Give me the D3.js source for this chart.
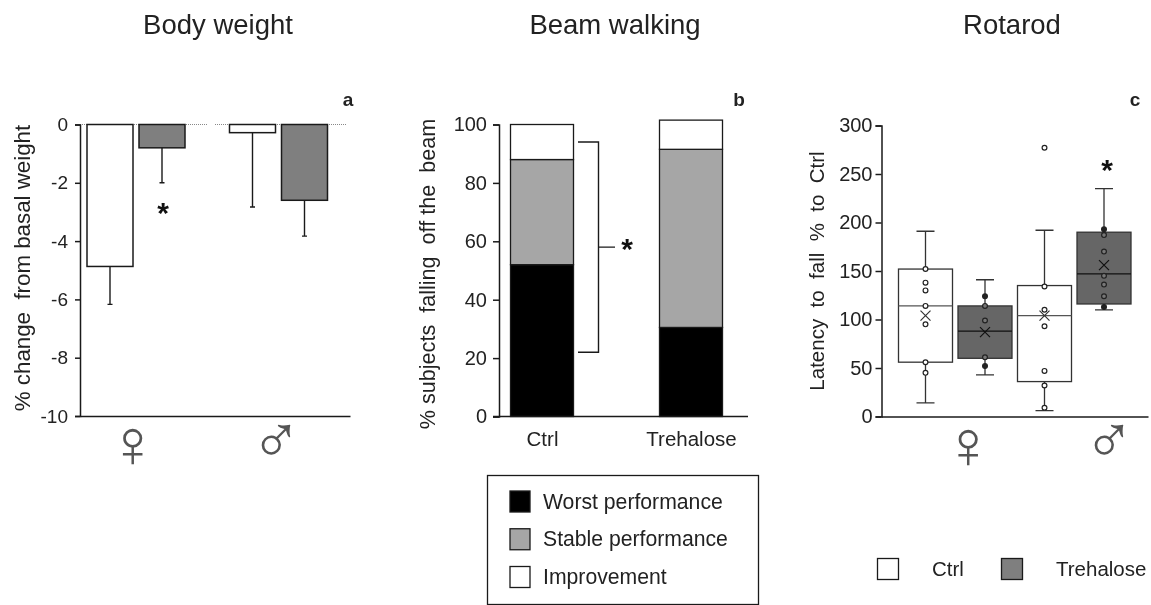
<!DOCTYPE html>
<html>

<head>
    <title>Body weight, beam walking, rotarod</title>
    <script src="https://cdn.jsdelivr.net/npm/d3@7"></script>
    <style>
        body { margin: 0; background: #fff; }
        svg { display: block; filter: blur(0.35px); }
        text { font-family: "Liberation Sans", Arial, sans-serif; fill: #222; white-space: pre; }
    </style>
</head>

<body>
    <script>
        // panel a - body weight
        const sexes = ['♀', '♂'];
        const groups = ['Ctrl', 'Trehalose'];
        const weightMean = [-4.87, -0.8, -0.28, -2.6];
        const weightErrLow = [-6.17, -2.0, -2.83, -3.83];

        // panel b - beam walking
        const perfLevels = ['Worst performance', 'Stable performance', 'Improvement'];
        const beamCtrl = [52, 36, 12];
        const beamTrehalose = [30.5, 61, 10];

        // panel c - rotarod, order F ctrl, F tre, M ctrl, M tre
        const boxNames = ['F-Ctrl', 'F-Tre', 'M-Ctrl', 'M-Tre'];
        const boxQ1 = [56, 60, 36, 116];
        const boxMedian = [114, 88, 104, 147];
        const boxQ3 = [152, 114, 135, 190];
        const boxWhiskLow = [14, 43, 6, 110];
        const boxWhiskHigh = [191, 141, 192, 235];
        const boxMean = [104, 87, 104, 156];
        const boxPoints = [
            [152, 138, 130, 114, 95, 56, 45],
            [124, 114, 99, 61, 52],
            [277, 134, 110, 93, 47, 32, 9],
            [193, 187, 170, 145, 136, 124, 113]
        ];

        const ink = '#1a1a1a';
        const svg = d3.select('body').append('svg').attr('width', 1151).attr('height', 605);

        function title(txt, x) {
            svg.append('text').attr('x', x).attr('y', 33.5).attr('text-anchor', 'middle')
                .style('font-size', '27.5px').text(txt);
        }
        function panelLetter(txt, x) {
            svg.append('text').attr('x', x).attr('y', 106).attr('text-anchor', 'middle')
                .style('font-size', '19px').style('font-weight', 'bold').text(txt);
        }
        function yLabel(txt, x, y, size) {
            svg.append('text').attr('transform', `translate(${x},${y}) rotate(-90)`)
                .attr('text-anchor', 'middle').style('font-size', size + 'px').text(txt);
        }
        function sexSymbol(txt, x, y) {
            svg.append('text').attr('x', x).attr('y', y).attr('text-anchor', 'middle')
                .style('font-size', '68px').style('fill', '#555').text(txt);
        }
        function star(x, y) {
            svg.append('text').attr('x', x).attr('y', y).attr('text-anchor', 'middle')
                .style('font-size', '30px').style('font-weight', 'bold').style('fill', '#111').text('*');
        }
        function styleAxis(g, size) {
            g.selectAll('path,line').attr('stroke', ink).attr('stroke-width', 1.5);
            g.selectAll('text').style('fill', '#222').style('font-size', size + 'px');
        }

        // ---- panel a ----
        title('Body weight', 218);
        panelLetter('a', 348);
        yLabel('% change  from basal weight', 30, 268, 22.3);

        const yA = d3.scaleLinear().domain([0, -10]).range([124.5, 416]);
        const xGroupA = d3.scalePoint().domain(sexes).range([136, 278.5]);
        const xBarA = d3.scalePoint().domain(groups).range([-26, 26]);
        const barsA = [];
        sexes.forEach((s, i) => groups.forEach((g, j) => {
            const k = i * 2 + j;
            barsA.push({ sex: s, group: g, mean: weightMean[k], low: weightErrLow[k] });
        }));
        const barXA = d => xGroupA(d.sex) + xBarA(d.group);

        // dotted zero line, broken between the two groups
        [[80, 208], [215, 347]].forEach(r => {
            svg.append('line').attr('x1', r[0]).attr('x2', r[1]).attr('y1', yA(0)).attr('y2', yA(0))
                .attr('stroke', '#888').attr('stroke-width', 1).attr('stroke-dasharray', '1 1');
        });

        svg.selectAll('.errA').data(barsA).join('path').attr('class', 'errA')
            .attr('fill', 'none').attr('stroke', ink).attr('stroke-width', 1.4)
            .attr('d', d => `M${barXA(d)},${yA(d.mean)}V${yA(d.low)}M${barXA(d) - 2.5},${yA(d.low)}H${barXA(d) + 2.5}`);
        svg.selectAll('.barA').data(barsA).join('rect').attr('class', 'barA')
            .attr('x', d => barXA(d) - 23).attr('width', 46)
            .attr('y', yA(0)).attr('height', d => yA(d.mean) - yA(0))
            .attr('fill', d => d.group === 'Ctrl' ? '#fff' : '#7f7f7f')
            .attr('stroke', ink).attr('stroke-width', 1.5);

        svg.append('g').attr('transform', 'translate(80,0)')
            .call(d3.axisLeft(yA).tickValues([0, -2, -4, -6, -8, -10]).tickFormat(d => String(d)).tickSizeOuter(0).tickSize(5).tickPadding(7))
            .call(styleAxis, 19);
        svg.append('g').attr('transform', 'translate(0,416)')
            .call(d3.axisBottom(d3.scaleLinear().range([80, 350])).tickValues([]).tickSizeOuter(0))
            .call(styleAxis, 19);
        star(163, 223);
        sexSymbol('♀', 132.5, 467);
        sexSymbol('♂', 276, 463);

        // ---- panel b ----
        title('Beam walking', 615);
        panelLetter('b', 739);
        yLabel('% subjects  falling  off the  beam', 435, 274, 21.6);

        const yB = d3.scaleLinear().domain([0, 100]).range([416.5, 124.5]);
        const xB = d3.scalePoint().domain(groups).range([542, 691]);
        const perfFill = d3.scaleOrdinal().domain(perfLevels).range(['#000', '#a6a6a6', '#fff']);
        const stackB = d3.stack().keys(perfLevels)(groups.map((g, j) => {
            const vals = j === 0 ? beamCtrl : beamTrehalose;
            const row = { group: g };
            perfLevels.forEach((p, i) => { row[p] = vals[i]; });
            return row;
        }));

        svg.append('g').selectAll('g').data(stackB).join('g').selectAll('rect')
            .data(s => s.map(d => ({ key: s.key, d })))
            .join('rect')
            .attr('x', r => xB(r.d.data.group) - 31.5).attr('width', 63)
            .attr('y', r => yB(r.d[1])).attr('height', r => yB(r.d[0]) - yB(r.d[1]))
            .attr('fill', r => perfFill(r.key))
            .attr('stroke', ink).attr('stroke-width', 1.3);

        svg.append('g').attr('transform', 'translate(499,0)')
            .call(d3.axisLeft(yB).tickValues([0, 20, 40, 60, 80, 100]).tickSizeOuter(0).tickSize(6).tickPadding(6))
            .call(styleAxis, 20);
        svg.append('g').attr('transform', 'translate(0,416.5)')
            .call(d3.axisBottom(xB).tickSize(0).tickPadding(15).tickSizeOuter(0))
            .call(styleAxis, 20.5)
            .call(g => g.select('.domain').attr('d', 'M493,0H748'));

        // significance bracket
        svg.append('path').attr('fill', 'none').attr('stroke', ink).attr('stroke-width', 1.4)
            .attr('d', `M578,${yB(94)}H598.5V${yB(22)}H578M598.5,${(yB(94) + yB(22)) / 2}H615`);
        star(627, 259);

        // legend b
        svg.append('rect').attr('x', 487.5).attr('y', 475.5).attr('width', 271).attr('height', 129)
            .attr('fill', '#fff').attr('stroke', ink).attr('stroke-width', 1.3);
        const legB = d3.scalePoint().domain(perfLevels).range([501.5, 577]);
        perfLevels.forEach(p => {
            svg.append('rect').attr('x', 510).attr('y', legB(p) - 10.5).attr('width', 20).attr('height', 21)
                .attr('fill', perfFill(p)).attr('stroke', ink).attr('stroke-width', 1.3);
            svg.append('text').attr('x', 543).attr('y', legB(p) + 7).style('font-size', '21.2px').text(p);
        });

        // ---- panel c ----
        title('Rotarod', 1012);
        panelLetter('c', 1135);
        yLabel('Latency  to  fall  %  to  Ctrl', 824, 271, 20.5);

        const yC = d3.scaleLinear().domain([0, 300]).range([416.5, 125.5]);
        const xC = d3.scalePoint().domain(boxNames).range([925.5, 1104]);
        const boxes = boxNames.map((n, i) => ({
            name: n, dark: i % 2 === 1,
            q1: boxQ1[i], med: boxMedian[i], q3: boxQ3[i],
            lo: boxWhiskLow[i], hi: boxWhiskHigh[i], mean: boxMean[i], pts: boxPoints[i]
        }));
        const boxG = svg.append('g').selectAll('g').data(boxes).join('g')
            .attr('transform', d => `translate(${xC(d.name)},0)`);
        const cLine = '#333';

        boxG.append('path').attr('fill', 'none').attr('stroke', cLine).attr('stroke-width', 1.3)
            .attr('d', d => `M0,${yC(d.hi)}V${yC(d.lo)}M-9,${yC(d.hi)}H9M-9,${yC(d.lo)}H9`);
        boxG.append('rect').attr('x', -27).attr('width', 54)
            .attr('y', d => yC(d.q3)).attr('height', d => yC(d.q1) - yC(d.q3))
            .attr('fill', d => d.dark ? '#666' : '#fff')
            .attr('stroke', cLine).attr('stroke-width', 1.3);
        boxG.append('line').attr('x1', -27).attr('x2', 27)
            .attr('y1', d => yC(d.med)).attr('y2', d => yC(d.med))
            .attr('stroke', d => d.dark ? '#111' : '#555').attr('stroke-width', 1.3);
        // dark-box points look solid once they sit outside the box
        boxG.selectAll('circle').data(d => d.pts.map(v => ({ v, dark: d.dark, out: v > d.q3 || v < d.q1 }))).join('circle')
            .attr('r', 2.4).attr('cy', d => yC(d.v))
            .attr('fill', d => !d.dark ? '#fff' : (d.out ? '#222' : '#777'))
            .attr('stroke', '#222').attr('stroke-width', 1.2);
        boxG.append('path').attr('fill', 'none').attr('stroke', d => d.dark ? '#111' : '#333').attr('stroke-width', 1.2)
            .attr('d', d => `M-5,${yC(d.mean) - 5}L5,${yC(d.mean) + 5}M5,${yC(d.mean) - 5}L-5,${yC(d.mean) + 5}`);

        svg.append('g').attr('transform', 'translate(881.5,0)')
            .call(d3.axisLeft(yC).tickValues([0, 50, 100, 150, 200, 250, 300]).tickSizeOuter(0).tickSize(6).tickPadding(3))
            .call(styleAxis, 20);
        svg.append('g').attr('transform', 'translate(0,416.5)')
            .call(d3.axisBottom(d3.scaleLinear().range([881.5, 1148])).tickValues([]).tickSizeOuter(0))
            .call(styleAxis, 20);
        star(1107, 180);
        sexSymbol('♀', 968, 468);
        sexSymbol('♂', 1109, 463);

        // legend c
        const legC = d3.scaleOrdinal().domain(groups).range([877.5, 1001.5]);
        const legCText = d3.scaleOrdinal().domain(groups).range([932, 1056]);
        groups.forEach(g => {
            svg.append('rect').attr('x', legC(g)).attr('y', 558.5).attr('width', 21).attr('height', 21)
                .attr('fill', g === 'Ctrl' ? '#fff' : '#7f7f7f').attr('stroke', ink).attr('stroke-width', 1.3);
            svg.append('text').attr('x', legCText(g)).attr('y', 576).style('font-size', '20.5px').text(g);
        });
    </script>
</body>

</html>
